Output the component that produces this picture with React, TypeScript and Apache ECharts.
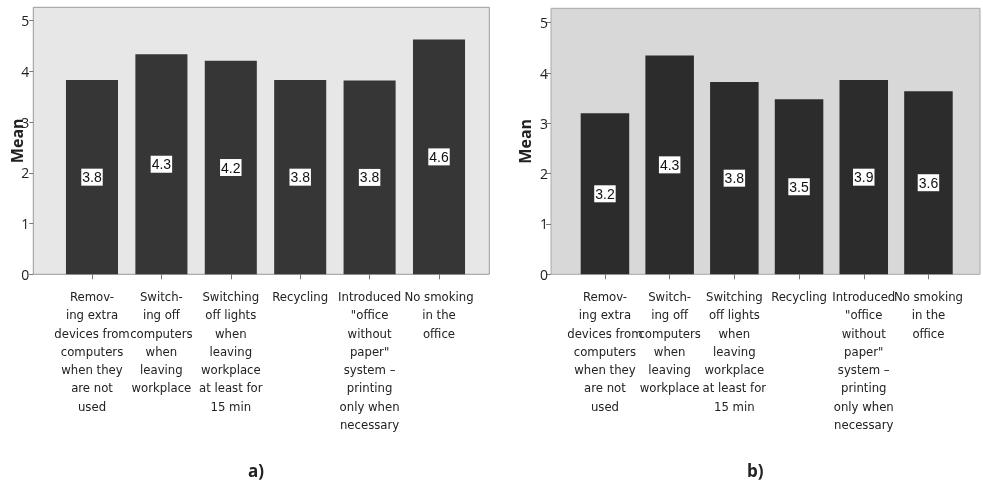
import React, { useEffect, useRef } from "react";
import * as echarts from "echarts";

const categories = [
  "Remov-\ning extra\ndevices from\ncomputers\nwhen they\nare not\nused",
  "Switch-\ning off\ncomputers\nwhen\nleaving\nworkplace",
  "Switching\noff lights\nwhen\nleaving\nworkplace\nat least for\n15 min",
  "Recycling",
  "Introduced\n\"office\nwithout\npaper\"\nsystem –\nprinting\nonly when\nnecessary",
  "No smoking\nin the\noffice",
];
const valuesA = [3.83, 4.34, 4.21, 3.83, 3.82, 4.63];
const valuesB = [3.2, 4.35, 3.82, 3.48, 3.86, 3.64];
const labelsA = ["3.8", "4.3", "4.2", "3.8", "3.8", "4.6"];
const labelsB = ["3.2", "4.3", "3.8", "3.5", "3.9", "3.6"];
const yTicks = [0, 1, 2, 3, 4, 5];

const catFont = '"Liberation Sans Narrow", "DejaVu Sans Condensed", "Open Sans", sans-serif';
const tickFont = '"Open Sans", "Noto Sans", sans-serif';

export default function App() {
  const ref = useRef<HTMLDivElement>(null);
  useEffect(() => {
    if (!ref.current) return;
    const chart = echarts.init(ref.current, undefined, { renderer: "svg" });
    const frames = [
      { left: 33.3, top: 7.3, width: 456, height: 267, max: 5.264, bg: "#e7e7e7", border: "#9a9a9a", gap: 8 },
      { left: 551, top: 8.3, width: 429, height: 266, max: 5.286, bg: "#d8d8d8", border: "#a8a8a8", gap: 18 },
    ];
    const bars = [
      { left: 57.3, top: 7.3, width: 416.4, height: 267, max: 5.264, values: valuesA, labels: labelsA, color: "#363636" },
      { left: 572.6, top: 8.3, width: 388.2, height: 266, max: 5.286, values: valuesB, labels: labelsB, color: "#2c2c2c" },
    ];
    const grid: any[] = [];
    const xAxis: any[] = [];
    const yAxis: any[] = [];
    const series: any[] = [];
    frames.forEach((f, i) => {
      grid.push({ left: f.left, top: f.top, width: f.width, height: f.height, show: true, backgroundColor: f.bg, borderColor: f.border, borderWidth: 1 });
      xAxis.push({ type: "value", gridIndex: grid.length - 1, show: false, min: 0, max: 1 });
      yAxis.push({
        type: "value",
        gridIndex: grid.length - 1,
        min: 0,
        max: f.max,
        interval: 1,
        name: "Mean",
        nameLocation: "middle",
        nameGap: f.gap,
        nameMoveOverlap: false,
        nameTextStyle: { fontFamily: tickFont, fontWeight: "bold", fontSize: 16, color: "#222" },
        axisLine: { show: false },
        axisTick: { show: true, length: i === 0 ? 4 : 5, customValues: yTicks, lineStyle: { color: "#777" } },
        axisLabel: {
          fontFamily: tickFont,
          fontSize: 14,
          color: "#222",
          margin: i === 0 ? 4 : 3,
          customValues: yTicks,
        },
        splitLine: { show: false },
      });
    });
    bars.forEach((b, i) => {
      grid.push({ left: b.left, top: b.top, width: b.width, height: b.height, show: false });
      const gi = grid.length - 1;
      xAxis.push({
        type: "category",
        gridIndex: gi,
        data: categories,
        axisLine: { show: false },
        axisTick: { show: true, alignWithLabel: true, length: 5, lineStyle: { color: "#777" } },
        axisLabel: {
          interval: 0,
          fontFamily: catFont,
          fontSize: 13,
          lineHeight: 18.3,
          color: "#222",
          margin: 13,
          verticalAlign: "top",
        },
      });
      yAxis.push({ type: "value", gridIndex: gi, min: 0, max: b.max, show: false, splitLine: { show: false } });
      series.push({
        type: "bar",
        xAxisIndex: gi,
        yAxisIndex: gi,
        data: b.values,
        barWidth: "75%",
        itemStyle: { color: b.color },
        label: {
          show: true,
          position: "inside",
          formatter: (p: any) => b.labels[p.dataIndex],
          backgroundColor: "#ffffff",
          color: "#111",
          fontFamily: '"Liberation Sans", Arial, sans-serif',
          fontSize: 14,
          padding: [2, 1, 1, 1],
        },
      });
    });
    chart.setOption({
      animation: false,
      grid,
      xAxis,
      yAxis,
      series,
      graphic: [
        { type: "text", left: 248, top: 462, style: { text: "a)", fontFamily: tickFont, fontWeight: "bold", fontSize: 17, fill: "#222" } },
        { type: "text", left: 747, top: 462, style: { text: "b)", fontFamily: tickFont, fontWeight: "bold", fontSize: 17, fill: "#222" } },
      ],
    });
    return () => chart.dispose();
  }, []);
  return <div ref={ref} style={{ position: "fixed", left: 0, top: 0, width: 983, height: 482 }} />;
}
